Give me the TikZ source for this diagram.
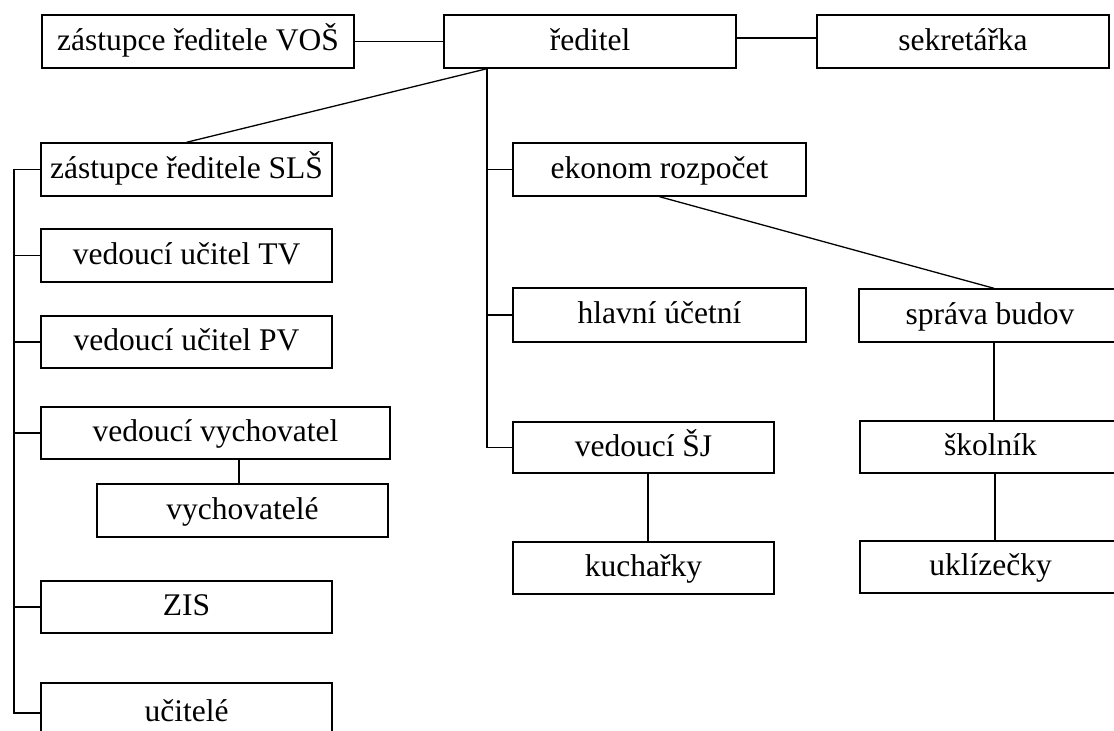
\documentclass[tikz,border=0pt]{standalone}
\usepackage{fontspec}
\setmainfont{Liberation Serif}
\begin{document}
\begin{tikzpicture}[x=1pt,y=-1pt,
  box/.style={draw, line width=1.4pt, rectangle, inner sep=0pt,
    minimum height=53pt, font=\fontsize{31.5}{36}\selectfont,
    text height=25pt, text depth=7.8pt},
  conn/.style={line width=1.3pt}]
\useasboundingbox (0,0) rectangle (1114,731);
% top row
\node[box, minimum width=312pt] (vos) at (198,41.5) {zástupce ředitele VOŠ};
\node[box, minimum width=292pt] (red) at (590,41.5) {ředitel};
\node[box, minimum width=292pt] (sek) at (963,41.5) {sekretářka};
% left column
\node[box, minimum width=291pt] (sls) at (186.5,169.5) {zástupce ředitele SLŠ};
\node[box, minimum width=291pt] (tv) at (186.5,255.5) {vedoucí učitel TV};
\node[box, minimum width=291pt, minimum height=52pt] (pv) at (186.5,342) {vedoucí učitel PV};
\node[box, minimum width=349pt, minimum height=52pt] (vych) at (215.5,433) {vedoucí vychovatel};
\node[box, minimum width=291pt] (vychs) at (242.5,510.5) {vychovatelé};
\node[box, minimum width=291pt, minimum height=52pt] (zis) at (186.5,607) {ZIS};
\node[box, minimum width=291pt, minimum height=60pt] (uc) at (186.5,713) {učitelé};
% middle column
\node[box, minimum width=293pt] (eko) at (659.5,169.5) {ekonom rozpočet};
\node[box, minimum width=293pt, minimum height=54pt] (hu) at (659.5,315) {hlavní účetní};
\node[box, minimum width=261pt, minimum height=51pt] (sj) at (643.5,447.5) {vedoucí ŠJ};
\node[box, minimum width=261pt, minimum height=52pt] (kuch) at (643.5,568) {kuchařky};
% right column
\node[box, minimum width=262pt] (sb) at (990,315.5) {správa budov};
\node[box, minimum width=261pt, minimum height=52pt] (sko) at (990.5,447) {školník};
\node[box, minimum width=261pt, minimum height=52pt] (ukl) at (990.5,567) {uklízečky};
% connectors top
\draw[conn] (vos.east) -- (red.west);
\draw[conn] ([yshift=3.5pt]red.east) -- ([yshift=3.5pt]red.east -| sek.west);
% trunk from director
\coordinate (rt) at ([xshift=-103pt]red.south);
\draw[conn] (rt) -- (sls.north);
\draw[conn] (rt) |- (sj.west);
\draw[conn] (rt |- eko.west) -- (eko.west);
\draw[conn] (rt |- hu.west) -- (hu.west);
% left trunk
\coordinate (lt) at (14,169.5);
\draw[conn] (sls.west) -- (lt) |- (uc.west);
\draw[conn] (lt |- tv.west) -- (tv.west);
\draw[conn] (lt |- pv.west) -- (pv.west);
\draw[conn] (lt |- vych.west) -- (vych.west);
\draw[conn] (lt |- zis.west) -- (zis.west);
% sub-connectors
\draw[conn] ([xshift=23.5pt]vych.south) -- ([xshift=23.5pt]vych.south |- vychs.north);
\draw[conn] (eko.south) -- ([xshift=4pt]sb.north);
\draw[conn] ([xshift=4pt]sb.south) -- ([xshift=4pt]sb.south |- sko.north);
\draw[conn] ([xshift=4.5pt]sko.south) -- ([xshift=4.5pt]sko.south |- ukl.north);
\draw[conn] ([xshift=4.5pt]sj.south) -- ([xshift=4.5pt]sj.south |- kuch.north);
\end{tikzpicture}
\end{document}
